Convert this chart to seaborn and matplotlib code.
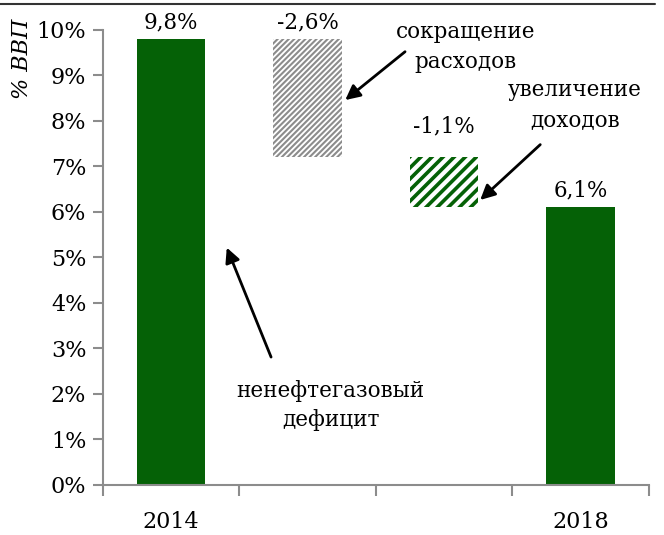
import numpy as np
import matplotlib
matplotlib.use("Agg")
import matplotlib.pyplot as plt
import pandas as pd
import seaborn as sns
from matplotlib.lines import Line2D

# data
steps = ["2014", "cut", "rev", "2018"]
heights = [9.8, 2.6, 1.1, 6.1]
bottoms = [0.0, 7.2, 6.1, 0.0]
value_labels = ["9,8%", "-2,6%", "-1,1%", "6,1%"]
tick_labels = ["2014", "", "", "2018"]

green = "#056106"
grey = "#8c8c8c"

sns.set_style("white")
plt.rcParams["font.family"] = ["DejaVu Serif"]
plt.rcParams["font.size"] = 15
plt.rcParams["text.color"] = "black"
plt.rcParams["xtick.labelcolor"] = "black"
plt.rcParams["ytick.labelcolor"] = "black"

df = pd.DataFrame({"step": steps, "h": heights})

fig, ax = plt.subplots(figsize=(6.64, 5.35), dpi=100)
fig.subplots_adjust(left=0.155, right=0.977, bottom=0.094, top=0.944)

sns.barplot(data=df, x="step", y="h", order=steps, bottom=bottoms,
            width=0.5, color=green, saturation=1, ax=ax)

bars = ax.patches
styles = [None, ("//////", grey, 1.5), ("///", green, 2.6), None]
for p, st in zip(bars, styles):
    p.set_linewidth(0)
    if st is None:
        continue
    hatch, col, hlw = st
    p.set_facecolor("white")
    p.set_edgecolor(col)
    p.set_hatch(hatch)
    if hasattr(p, "set_hatch_linewidth"):
        p.set_hatch_linewidth(hlw)

# value labels
offs = [4, 4, 14, 4]
for i, (b, h, lab) in enumerate(zip(bottoms, heights, value_labels)):
    ax.annotate(lab, (i, b + h), xytext=(0, offs[i]), textcoords="offset points",
                ha="center", va="bottom", fontsize=15.5)

# annotations
arrow = dict(arrowstyle="-|>", color="black", lw=2, mutation_scale=22)
ax.text(2.16, 9.62, "сокращение\nрасходов", ha="center", va="center",
        fontsize=15.5, linespacing=1.45)
ax.annotate("", xy=(1.26, 8.42), xytext=(1.73, 9.56), arrowprops=arrow)
ax.text(2.96, 8.35, "увеличение\nдоходов", ha="center", va="center",
        fontsize=15.5, linespacing=1.45)
ax.annotate("", xy=(2.25, 6.22), xytext=(2.72, 7.52), arrowprops=arrow)
ax.text(1.17, 1.74, "ненефтегазовый\nдефицит", ha="center", va="center",
        fontsize=15.5, linespacing=1.45)
ax.annotate("", xy=(0.40, 5.27), xytext=(0.74, 2.75), arrowprops=arrow)

# axes
ax.set_xlim(-0.5, 3.5)
ax.set_ylim(0, 10)
ax.set_yticks(np.arange(0, 11, 1))
ax.set_yticklabels([f"{v}%" for v in range(11)])
ax.set_xticks(range(4))
ax.set_xticklabels(tick_labels)
ax.set_xticks(np.arange(-0.5, 4, 1), minor=True)
ax.tick_params(axis="x", which="major", bottom=True, length=0, pad=19, labelsize=16)
ax.tick_params(axis="x", which="minor", bottom=True, length=8, width=1.5,
               color=grey, direction="out")
ax.tick_params(axis="y", which="major", left=True, length=7, width=1.5, color=grey,
               direction="out", pad=5, labelsize=16)
ax.set_xlabel("")
ax.set_ylabel("")
sns.despine(ax=ax)
for s in ["left", "bottom"]:
    ax.spines[s].set_color(grey)
    ax.spines[s].set_linewidth(1.5)

ax.text(-0.148, 1.025, "% ВВП", transform=ax.transAxes, rotation=90,
        ha="center", va="top", fontsize=16, style="italic")

fig.add_artist(Line2D([0, 0.987], [0.993, 0.993], color="#333333", lw=1.5))

fig.savefig("out.png", dpi=100)
